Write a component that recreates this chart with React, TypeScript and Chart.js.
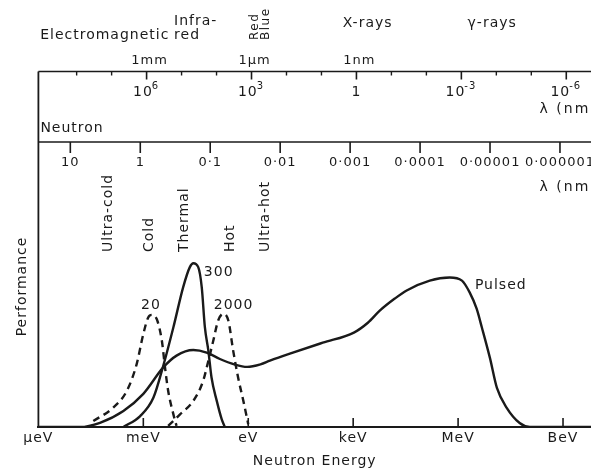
import React, { useEffect, useRef } from 'react';
import { Chart, registerables } from 'chart.js';

Chart.register(...registerables);

// ---------- data (x = log10(E / eV), y = performance, arbitrary units) ----------
const energyTickLogE = [-6, -3, 0, 3, 6, 9];
const energyTickLabels = ['µeV', 'meV', 'eV', 'keV', 'MeV', 'BeV'];

const pulsedLogE = [-6, -4.81, -4.24, -3.57, -3.0, -2.43, -2.05, -1.57, -1.19, -0.81, -0.4, -0.03, 0.35, 0.62, 1.19, 2.13, 3.02, 3.42, 3.76, 4.19, 4.53, 5.19, 5.76, 6.11, 6.33, 6.53, 6.68, 6.91, 7.11, 7.39, 7.76, 8.05, 9.8];
const pulsedPerf = [0, 0, 1.5, 5.7, 11.8, 21.2, 25.4, 27.4, 26.5, 24.2, 22.3, 21.4, 22.3, 23.6, 26.1, 30.0, 33.6, 37.1, 41.4, 45.7, 48.6, 52.1, 53.2, 52.1, 47.9, 42.1, 35.4, 24.6, 13.9, 6.8, 1.4, 0, 0];

const thermalLogE = [-3.57, -3.09, -2.71, -2.43, -2.14, -1.86, -1.67, -1.57, -1.43, -1.33, -1.24, -1.14, -1.05, -0.9, -0.76, -0.67];
const thermalPerf = [0, 3.9, 10.5, 21.8, 35.5, 49.8, 56.9, 58.3, 56.9, 49.8, 35.5, 27.1, 17.6, 9.3, 2.8, 0];

const coldLogE = [-4.43, -3.86, -3.47, -3.19, -3.0, -2.86, -2.76, -2.62, -2.47, -2.38, -2.29, -2.14, -2.05];
const coldPerf = [2.1, 6.9, 12.9, 22.4, 33.1, 39.0, 39.9, 38.5, 30.7, 21.2, 12.9, 4.5, 0.4];

const hotLogE = [-2.29, -1.95, -1.57, -1.29, -1.14, -1.0, -0.86, -0.71, -0.57, -0.43, -0.29, -0.14, 0.0];
const hotPerf = [0.4, 4.5, 9.3, 16.4, 23.6, 30.7, 37.9, 40.3, 37.9, 27.1, 17.6, 9.3, 1.0];

// curve annotations: text, logE, perf, align
const curveLabels = ['300', '20', '2000', 'Pulsed'];
const curveLabelLogE = [-1.27, -2.78, -0.42, 6.48];
const curveLabelPerf = [55, 43.2, 43.2, 50.4];
const curveLabelAlign = ['left', 'center', 'center', 'left'];

// neutron regions (vertical labels)
const regionLabels = ['Ultra-cold', 'Cold', 'Thermal', 'Hot', 'Ultra-hot'];
const regionLogE = [-4.0, -2.84, -1.84, -0.52, 0.48];

// electromagnetic wavelength axis (nm)
const HC_EV_NM = 1239.84;
const emMajorLambda = [1e6, 1e3, 1, 1e-3, 1e-6];
const emMajorBase = ['10', '10', '1', '10', '10'];
const emMajorExp = ['6', '3', '', '-3', '-6'];
const emMinorLambda = [1e8, 1e7, 1e5, 1e4, 1e2, 1e1, 1e-1, 1e-2, 1e-4, 1e-5];
const emUnitLambda = [1e6, 1e3, 1];
const emUnitLabels = ['1mm', '1µm', '1nm'];

// neutron wavelength axis (nm)
const NEUTRON_EV_NM2 = 8.18e-4;
const neutronLambda = [10, 1, 0.1, 0.01, 0.001, 0.0001, 0.00001, 0.000001];
const neutronLambdaLabels = ['10', '1', '0·1', '0·01', '0·001', '0·0001', '0·00001', '0·000001'];

// spectrum band labels along the top (text, logE of left edge)
const bandLabels = ['Electromagnetic', 'Infra-', 'red', 'X-rays', 'γ-rays'];
const bandLogE = [-5.95, -2.12, -2.12, 2.7, 6.27];
const bandRow = [35, 21, 35, 23, 23];
const visibleLabels = ['Red', 'Blue'];
const visibleLogE = [0.19, 0.51];

const INK = '#1a1a1a';
const FONT = '"DejaVu Sans", sans-serif';

const emLogE = (lam: number) => Math.log10(HC_EV_NM / lam);
const nLogE = (lam: number) => Math.log10(NEUTRON_EV_NM2 / (lam * lam));

const overlay = {
  id: 'overlay',
  beforeDraw(chart: any) {
    chart.ctx.letterSpacing = '1px';
  },
  afterDraw(chart: any) {
    const { ctx, chartArea, scales } = chart;
    const xs = scales.x;
    const ys = scales.y;
    const px = (v: number) => xs.getPixelForValue(v);
    const L = chartArea.left;
    const R = chart.width;
    const B = chartArea.bottom;
    const EM_Y = 71.5;
    const N_Y = 142;

    ctx.save();
    ctx.strokeStyle = INK;
    ctx.fillStyle = INK;
    ctx.lineCap = 'butt';
    ctx.letterSpacing = '1px';

    const seg = (x1: number, y1: number, x2: number, y2: number, w = 1.6) => {
      ctx.lineWidth = w;
      ctx.beginPath();
      ctx.moveTo(x1, y1);
      ctx.lineTo(x2, y2);
      ctx.stroke();
    };
    const text = (t: string, x: number, y: number, size = 14, align = 'left') => {
      ctx.font = `${size}px ${FONT}`;
      ctx.textAlign = align;
      ctx.textBaseline = 'middle';
      ctx.fillText(t, x, y);
    };
    const vtext = (t: string, x: number, yBottom: number, size = 14) => {
      ctx.save();
      ctx.translate(x, yBottom);
      ctx.rotate(-Math.PI / 2);
      ctx.font = `${size}px ${FONT}`;
      ctx.textAlign = 'left';
      ctx.textBaseline = 'middle';
      ctx.fillText(t, 0, 0);
      ctx.restore();
    };

    // frame lines
    seg(L, EM_Y, L, B, 1.8);
    seg(L, EM_Y, R, EM_Y, 1.6);
    seg(L, N_Y, R, N_Y, 1.6);

    // bottom energy ticks (pointing up)
    energyTickLogE.forEach((v, i) => {
      if (i === 0) return;
      const x = px(v);
      seg(x, B, x, B - 9, 1.6);
    });

    // EM axis ticks
    emMajorLambda.forEach((lam, i) => {
      const x = px(emLogE(lam));
      seg(x, EM_Y, x, EM_Y + 8, 1.6);
      ctx.font = `14px ${FONT}`;
      const wb = ctx.measureText(emMajorBase[i]).width;
      ctx.font = `10px ${FONT}`;
      const we = emMajorExp[i] ? ctx.measureText(emMajorExp[i]).width : 0;
      const x0 = x - (wb + we) / 2;
      text(emMajorBase[i], x0, 92, 14, 'left');
      if (emMajorExp[i]) text(emMajorExp[i], x0 + wb - 1, 86, 10, 'left');
    });
    emMinorLambda.forEach((lam) => {
      const x = px(emLogE(lam));
      seg(x, EM_Y, x, EM_Y + 4, 1.4);
    });
    emUnitLambda.forEach((lam, i) => {
      text(emUnitLabels[i], px(emLogE(lam)) + 3, 61, 13, 'center');
    });
    ctx.letterSpacing = '2px';
    text('λ (nm)', px(8.33), 109, 14, 'left');
    ctx.letterSpacing = '1px';

    // neutron wavelength axis
    text('Neutron', L + 2, 128, 14, 'left');
    neutronLambda.forEach((lam, i) => {
      const x = px(nLogE(lam));
      seg(x, N_Y, x, N_Y + 11, 1.6);
      text(neutronLambdaLabels[i], x, 163, 13, 'center');
    });
    ctx.letterSpacing = '2px';
    text('λ (nm)', px(8.33), 187, 14, 'left');
    ctx.letterSpacing = '1px';

    // band labels along the top
    bandLabels.forEach((t, i) => text(t, px(bandLogE[i]), bandRow[i], 14, 'left'));
    ctx.letterSpacing = '1.5px';
    visibleLabels.forEach((t, i) => vtext(t, px(visibleLogE[i]), 40, 12));
    ctx.letterSpacing = '1px';

    // region labels (vertical)
    regionLabels.forEach((t, i) => vtext(t, px(regionLogE[i]), 252, 14));

    // curve labels
    curveLabels.forEach((t, i) => {
      text(t, px(curveLabelLogE[i]), ys.getPixelForValue(curveLabelPerf[i]), 14, curveLabelAlign[i]);
    });

    ctx.restore();
  },
};

const toPoints = (xs: number[], ys: number[]) => xs.map((x, i) => ({ x, y: ys[i] }));

export default function App() {
  const ref = useRef<HTMLCanvasElement | null>(null);

  useEffect(() => {
    document.body.style.margin = '0';
    const canvas = ref.current;
    if (!canvas) return;
    Chart.defaults.font.family = FONT;
    Chart.defaults.font.size = 14;
    Chart.defaults.color = INK;

    const common = {
      borderColor: INK,
      borderWidth: 2.4,
      pointRadius: 0,
      fill: false,
      cubicInterpolationMode: 'monotone' as const,
      borderJoinStyle: 'round' as const,
    };

    const chart = new Chart(canvas, {
      type: 'line',
      data: {
        datasets: [
          { ...common, label: 'Pulsed', data: toPoints(pulsedLogE, pulsedPerf) },
          { ...common, label: '300', data: toPoints(thermalLogE, thermalPerf) },
          { ...common, label: '20', data: toPoints(coldLogE, coldPerf), borderDash: [7, 5] },
          { ...common, label: '2000', data: toPoints(hotLogE, hotPerf), borderDash: [7, 5] },
        ],
      },
      options: {
        animation: false,
        responsive: false,
        devicePixelRatio: 1,
        layout: { padding: { top: 146, left: 9.6, right: 0, bottom: 3.4 } },
        plugins: { legend: { display: false }, tooltip: { enabled: false } },
        scales: {
          x: {
            type: 'linear',
            min: -6,
            max: 9.8,
            grid: { display: false, drawTicks: false },
            border: { display: true, color: INK, width: 2 },
            afterBuildTicks: (s: any) => {
              s.ticks = energyTickLogE.map((v) => ({ value: v }));
            },
            ticks: {
              autoSkip: false,
              maxRotation: 0,
              padding: 3,
              color: INK,
              font: { size: 14, family: FONT },
              callback: (_v: any, i: number) => energyTickLabels[i],
            },
            title: {
              display: true,
              text: 'Neutron Energy',
              color: INK,
              font: { size: 14, family: FONT },
              padding: { top: 3, bottom: 0 },
            },
          },
          y: {
            min: 0,
            max: 100,
            grid: { display: false, drawTicks: false },
            border: { display: false },
            ticks: { display: false },
            title: {
              display: true,
              text: 'Performance',
              color: INK,
              font: { size: 14, family: FONT },
              padding: { top: 4, bottom: 8 },
            },
          },
        },
      } as any,
      plugins: [overlay],
    });

    return () => chart.destroy();
  }, []);

  return <canvas ref={ref} width={591} height={473} style={{ display: 'block', width: 591, height: 473 }} />;
}
